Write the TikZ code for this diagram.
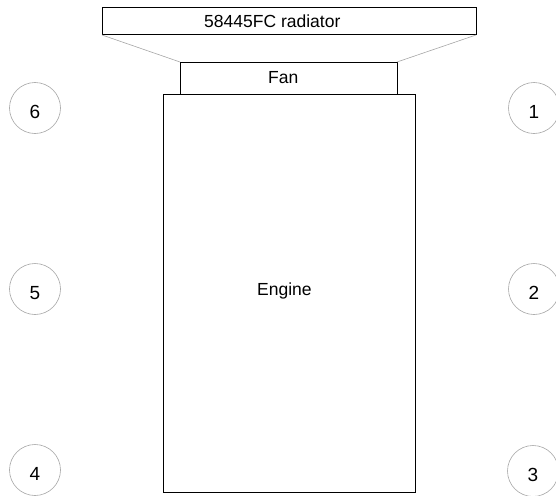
\documentclass[tikz,border=0pt]{standalone}
\usepackage{fontspec}
\setmainfont{Liberation Sans}
\begin{document}
\begin{tikzpicture}[x=1pt,y=-1pt,
  box/.style={draw=black,line width=1pt},
  link/.style={draw=gray!70,line width=0.6pt},
  ring/.style={circle,draw=gray!70,line width=0.6pt,minimum size=51pt,inner sep=0pt},
  numtxt/.style={anchor=base,inner sep=0pt,font=\fontsize{19}{22}\selectfont},
  lbl/.style={anchor=base west,inner sep=0pt,font=\fontsize{17.5}{20}\selectfont}]
\useasboundingbox (0,0) rectangle (556,495);
\draw[box] (102,8) rectangle (476,35);
\draw[box] (180,62) rectangle (397,94);
\draw[box] (163,94) rectangle (415,492);
\node[lbl] (rad) at (204,28) {58445FC radiator};
\node[lbl] (fan) at (268,83) {Fan};
\node[lbl] (eng) at (257,295.5) {Engine};
\coordinate (rbl) at (102,35);
\coordinate (rbr) at (476,35);
\coordinate (ftl) at (180,62);
\coordinate (ftr) at (397,62);
\draw[link] (rbl) -- (ftl);
\draw[link] (rbr) -- (ftr);
\node[ring] (c6) at (35,108) {};
\node[ring] (c1) at (534,108) {};
\node[ring] (c5) at (35,289) {};
\node[ring] (c2) at (534,289) {};
\node[ring] (c4) at (35,470) {};
\node[ring] (c3) at (533,471) {};
\node[numtxt] (n6) at ([yshift=-10pt]c6.center) {6};
\node[numtxt] (n1) at ([yshift=-10pt]c1.center) {1};
\node[numtxt] (n5) at ([yshift=-10pt]c5.center) {5};
\node[numtxt] (n2) at ([yshift=-10pt]c2.center) {2};
\node[numtxt] (n4) at ([yshift=-10pt]c4.center) {4};
\node[numtxt] (n3) at ([yshift=-10pt]c3.center) {3};
\end{tikzpicture}
\end{document}
